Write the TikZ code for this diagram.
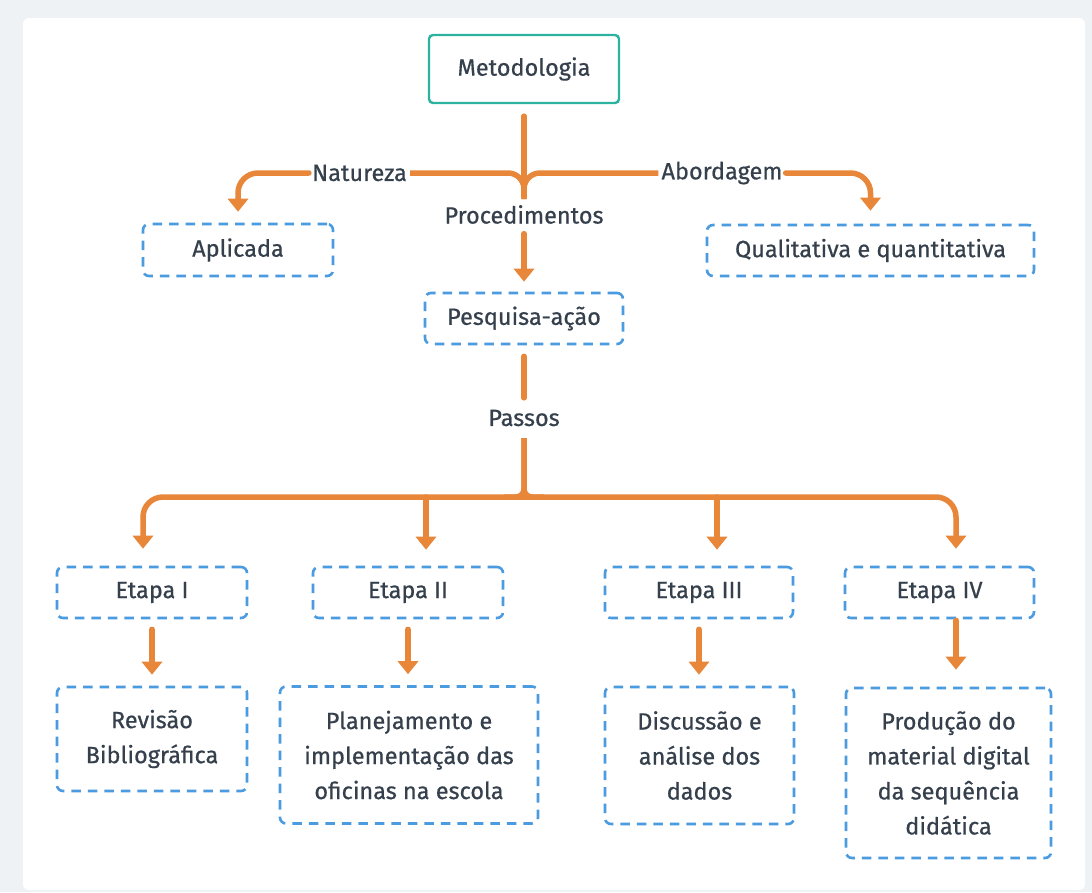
\documentclass[tikz,border=0pt]{standalone}
\usepackage{fontspec}
\setmainfont{Fira Sans}[FakeBold=0.6]
\usetikzlibrary{arrows.meta}
\definecolor{bgc}{HTML}{EEF2F5}
\definecolor{txt}{HTML}{35404C}
\definecolor{org}{HTML}{E8873A}
\definecolor{blu}{HTML}{4A9BE0}
\definecolor{teal}{HTML}{2BB3A0}
\tikzset{
  x=1pt,y=-1pt,
  every node/.style={text=txt,font=\fontsize{23.5}{35}\selectfont},
  dbox/.style={draw=blu,line width=2.6pt,dash pattern=on 9.5pt off 7pt,rounded corners=6pt,align=center,inner sep=0pt},
  mbox/.style={draw=teal,line width=2.4pt,rounded corners=4pt,inner sep=0pt},
  lbl/.style={inner xsep=3pt,inner ysep=0pt,minimum height=38pt},
  link/.style={draw=org,line width=5.5pt,line cap=round},
  flat/.style={draw=org,line width=5.5pt,line cap=butt},
  arr/.style={link,-{Triangle[width=20pt,length=13pt]}},
}
\begin{document}
\begin{tikzpicture}
\useasboundingbox (0,0) rectangle (1092,892);
\fill[bgc] (0,0) rectangle (1092,892);
\fill[white,rounded corners=6pt] (23,18) rectangle (1085,890);
% nodes
\node[mbox,minimum width=190pt,minimum height=68pt] (met) at (524,69) {Metodologia};
\node[dbox,minimum width=190pt,minimum height=52pt] (apl) at (238,250) {Aplicada};
\node[dbox,minimum width=327pt,minimum height=51pt] (qual) at (870.5,250.5) {Qualitativa e quantitativa};
\node[dbox,minimum width=198pt,minimum height=51pt] (pesq) at (524,318.5) {Pesquisa-ação};
\node[lbl] (nat) at (359.5,173) {Natureza};
\node[lbl] (abo) at (722,173) {Abordagem};
\node[lbl] (proc) at (524,214.5) {Procedimentos};
\node[lbl,minimum height=40pt] (pas) at (524,418) {Passos};
\node[dbox,minimum width=190pt,minimum height=51pt] (e1) at (152,592.5) {Etapa I};
\node[dbox,minimum width=190pt,minimum height=51pt] (e2) at (408,592.5) {Etapa II};
\node[dbox,minimum width=188pt,minimum height=51pt] (e3) at (699,592.5) {Etapa III};
\node[dbox,minimum width=189pt,minimum height=51pt] (e4) at (939.5,592.5) {Etapa IV};
\node[dbox,minimum width=190pt,minimum height=104pt] (rev) at (152,739) {Revisão\\Bibliográfica};
\node[dbox,minimum width=258pt,minimum height=137pt] (plan) at (409,755) {Planejamento e\\implementação das\\oficinas na escola};
\node[dbox,minimum width=189pt,minimum height=137pt] (disc) at (699.5,755.5) {Discussão e\\análise dos\\dados};
\node[dbox,minimum width=205pt,minimum height=170pt] (prod) at (948.5,773) {Produção do\\material digital\\da sequência\\didática};
% top connectors
\coordinate (j) at (524,173);
\draw[link] ([yshift=-12pt]met.south) -- (proc.north);
\draw[flat,rounded corners=16pt] (nat.east) -- (j) -- ([yshift=-26pt]j);
\draw[flat,rounded corners=16pt] (abo.west) -- (j) -- ([yshift=-26pt]j);
\draw[arr,rounded corners=20pt,shorten >=11pt] (nat.west) -| (apl.north);
\draw[arr,rounded corners=20pt,shorten >=13pt] (abo.east) -| (qual.north);
\draw[arr,shorten >=10pt] (proc.south) -- (pesq.north);
\draw[link] ([yshift=-11pt]pesq.south) -- (pas.north);
% bottom tree
\coordinate (b) at (524,497);
\coordinate (t1) at ([xshift=-9pt]e1.north);
\coordinate (t4) at ([xshift=16.5pt]e4.north);
\draw[link,{Triangle[width=20pt,length=13pt]}-{Triangle[width=20pt,length=13pt]},rounded corners=20pt,shorten <=17pt,shorten >=17pt] (t1) |- (b) -| (t4);
\draw[flat,rounded corners=8pt] (pas.south) -- (b) -- ++(-20,0);
\draw[flat,rounded corners=8pt] (pas.south) -- (b) -- ++(20,0);
\draw[arr,shorten >=16pt] (b -| e2.north) ++(18,0) coordinate (b2) -- (b2 |- e2.north);
\draw[arr,shorten >=16pt] (b -| e3.north) ++(18,0) coordinate (b3) -- (b3 |- e3.north);
\draw[arr,shorten <=10pt,shorten >=11pt] (e1.south) -- (rev.north -| e1.south);
\draw[arr,shorten <=10pt,shorten >=11pt] (e2.south) -- (plan.north -| e2.south);
\draw[arr,shorten <=10pt,shorten >=11pt] (e3.south) -- (disc.north -| e3.south);
\draw[arr,shorten >=17pt] ([xshift=16.5pt,yshift=-1pt]e4.south) coordinate (c4) -- (c4 |- prod.north);
\end{tikzpicture}
\end{document}
